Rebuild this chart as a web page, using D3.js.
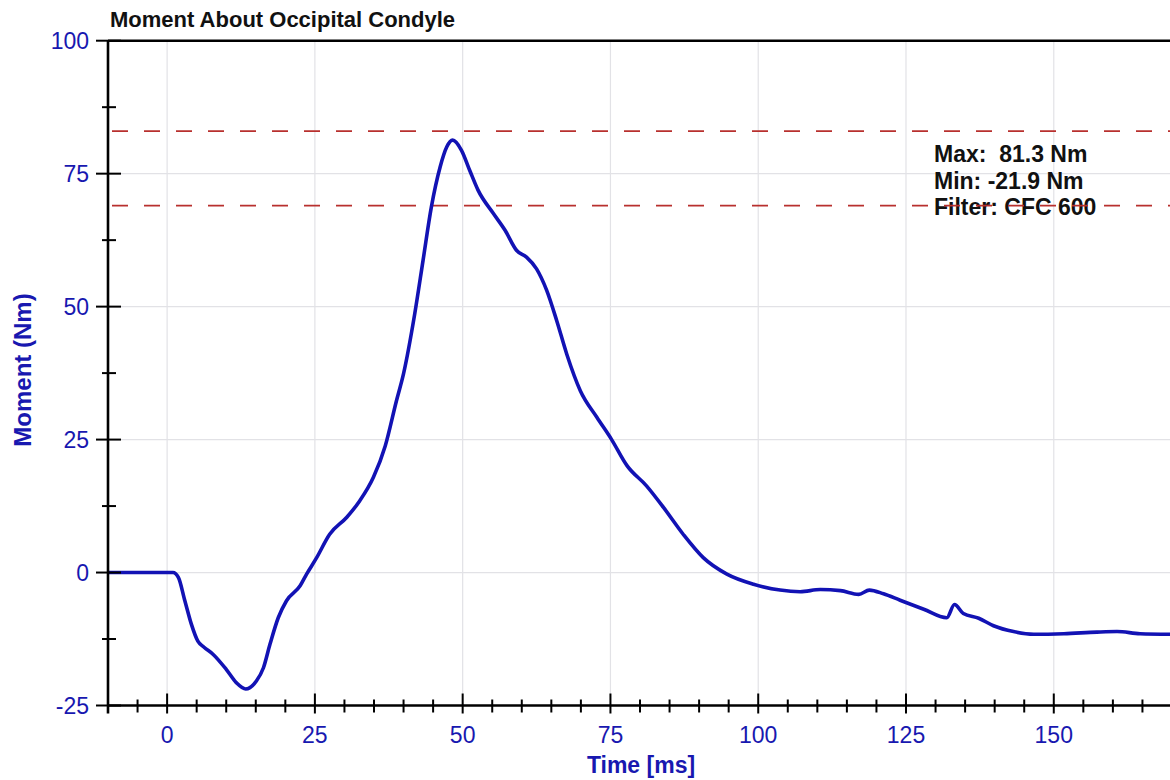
<!DOCTYPE html>
<html>
<head>
<meta charset="utf-8">
<script src="https://cdn.jsdelivr.net/npm/d3@7"></script>
<style>
    body { margin: 0; background: #fff; }
    text { font-family: "Liberation Sans", Arial, sans-serif; }
</style>
</head>
<body>
<svg id="chart" width="1170" height="780"></svg>
<script>
// Sample data
var timeMs = [-10, -5, 0, 1.0, 1.9, 3.0, 4.1, 5.2, 6.2, 7.8, 10.0, 11.7, 13.3, 15.1, 16.3, 17.4, 18.8, 20.2, 22.5, 23.6,
    25.3, 27.5, 30.4, 32.6, 34.9, 36.9, 38.8, 40.0, 41.9, 43.3, 44.7, 46.2, 47.3, 48.3, 49.8, 51.2, 52.6, 55.2, 57.2, 59.1,
    60.8, 62.5, 64.2, 65.9, 67.6, 69.9, 72.7, 75.2, 77.8, 81.1, 84.0, 87.3, 90.7, 94.7, 99.2, 103.7, 107.1, 110.5, 113.9, 117.0,
    118.8, 121.2, 124.0, 128.0, 131.9, 133.2, 134.7, 137.3, 139.8, 143.2, 146.6, 151.7, 157.3, 160.7, 164.6, 170];
var momentNm = [0, 0, 0, 0, -0.9, -5.3, -9.7, -12.9, -14.0, -15.4, -18.2, -20.7, -21.9, -20.4, -17.9, -13.5, -8.5, -5.3, -2.5, -0.3,
    2.8, 7.2, 10.4, 13.5, 17.9, 23.8, 32.3, 37.4, 48.7, 58.7, 68.7, 76.3, 80.0, 81.3, 79.4, 75.6, 71.9, 67.5, 64.3, 60.6,
    59.3, 57.1, 53.1, 47.4, 41.1, 34.2, 29.2, 25.0, 20.1, 16.3, 12.2, 7.2, 2.8, -0.3, -2.2, -3.3, -3.6, -3.2, -3.4, -4.1,
    -3.3, -4.0, -5.2, -6.9, -8.5, -6.0, -7.7, -8.6, -10.0, -11.1, -11.6, -11.5, -11.2, -11.1, -11.5, -11.6];

var xMajorTicks = [0, 25, 50, 75, 100, 125, 150];
var xMinorTicks = [-5, 5, 10, 15, 20, 30, 35, 40, 45, 55, 60, 65, 70, 80, 85, 90, 95, 105, 110, 115, 120, 130, 135, 140, 145, 155, 160, 165];
var yMajorTicks = [-25, 0, 25, 50, 75, 100];
var yMinorTicks = [-12.5, 12.5, 37.5, 62.5, 87.5];
var limitLines = [83, 69];
var statLines = ["Max:  81.3 Nm", "Min: -21.9 Nm", "Filter: CFC 600"];

var svg = d3.select("#chart");

var x = d3.scaleLinear().domain([-10, 170]).range([108, 1172]);
var y = d3.scaleLinear().domain([-25, 100]).range([705.5, 40.7]);

var blue = "#1212b4";
var labelBlue = "#1818b0";

// grid
svg.append("g").selectAll("line")
    .data(xMajorTicks)
    .enter().append("line")
    .attr("x1", d => x(d)).attr("x2", d => x(d))
    .attr("y1", y(100)).attr("y2", y(-25))
    .attr("stroke", "#e2e2e6").attr("stroke-width", 1.2);

svg.append("g").selectAll("line")
    .data(yMajorTicks.filter(d => d > -25 && d < 100))
    .enter().append("line")
    .attr("x1", x(-10)).attr("x2", x(170))
    .attr("y1", d => y(d)).attr("y2", d => y(d))
    .attr("stroke", "#e2e2e6").attr("stroke-width", 1.2);

// stats text (dashed lines go over it)
svg.append("g").selectAll("text")
    .data(statLines)
    .enter().append("text")
    .attr("x", 934)
    .attr("y", (d, i) => 162 + i * 26.5)
    .attr("font-size", "23px")
    .attr("font-weight", "bold")
    .attr("fill", "#111")
    .style("white-space", "pre")
    .text(d => d);

// limit lines
svg.append("g").selectAll("line")
    .data(limitLines)
    .enter().append("line")
    .attr("x1", x(-10)).attr("x2", x(170))
    .attr("y1", d => y(d)).attr("y2", d => y(d))
    .attr("stroke", "#b8302e").attr("stroke-width", 1.8)
    .attr("stroke-dasharray", "16,16")
    .attr("stroke-dashoffset", -4);

// trace
var line = d3.line()
    .x(function (d, i) { return x(timeMs[i]); })
    .y(function (d) { return y(d); })
    .curve(d3.curveMonotoneX);

svg.append("path")
    .datum(momentNm)
    .attr("d", line)
    .attr("fill", "none")
    .attr("stroke", blue)
    .attr("stroke-width", 3.6)
    .attr("stroke-linejoin", "round");

// axes frame
var frame = svg.append("g").attr("stroke", "#000").attr("stroke-width", 2.6);
frame.append("line").attr("x1", x(-10)).attr("x2", 1170).attr("y1", y(100)).attr("y2", y(100));
frame.append("line").attr("x1", x(-10)).attr("x2", 1170).attr("y1", y(-25)).attr("y2", y(-25));
frame.append("line").attr("x1", x(-10)).attr("x2", x(-10)).attr("y1", y(100)).attr("y2", y(-25) + 8);

// ticks
var ticks = svg.append("g").attr("stroke", "#000").attr("stroke-width", 2);
ticks.selectAll(".xmaj").data(xMajorTicks).enter().append("line")
    .attr("x1", d => x(d)).attr("x2", d => x(d))
    .attr("y1", y(-25) - 12).attr("y2", y(-25) + 8);
ticks.selectAll(".xmin").data(xMinorTicks).enter().append("line")
    .attr("x1", d => x(d)).attr("x2", d => x(d))
    .attr("y1", y(-25) - 6).attr("y2", y(-25) + 7);
ticks.selectAll(".ymaj").data(yMajorTicks).enter().append("line")
    .attr("x1", x(-10) - 12).attr("x2", x(-10) + 13)
    .attr("y1", d => y(d)).attr("y2", d => y(d));
ticks.selectAll(".ymin").data(yMinorTicks).enter().append("line")
    .attr("x1", x(-10) - 6).attr("x2", x(-10) + 8)
    .attr("y1", d => y(d)).attr("y2", d => y(d));

// tick labels
svg.append("g").selectAll("text")
    .data(xMajorTicks)
    .enter().append("text")
    .attr("x", d => x(d))
    .attr("y", 743)
    .attr("text-anchor", "middle")
    .attr("font-size", "23px")
    .attr("fill", labelBlue)
    .text(d => d);

svg.append("g").selectAll("text")
    .data(yMajorTicks)
    .enter().append("text")
    .attr("x", 89)
    .attr("y", d => y(d))
    .attr("dy", "0.35em")
    .attr("text-anchor", "end")
    .attr("font-size", "23px")
    .attr("fill", labelBlue)
    .text(d => d);

// titles
svg.append("text")
    .attr("x", 110).attr("y", 27)
    .attr("font-size", "22px").attr("font-weight", "bold")
    .attr("fill", "#111")
    .text("Moment About Occipital Condyle");

svg.append("text")
    .attr("x", 641).attr("y", 773)
    .attr("text-anchor", "middle")
    .attr("font-size", "23px").attr("font-weight", "bold")
    .attr("fill", labelBlue)
    .text("Time [ms]");

svg.append("text")
    .attr("transform", "translate(31,370) rotate(-90)")
    .attr("text-anchor", "middle")
    .attr("font-size", "24px").attr("font-weight", "bold")
    .attr("fill", labelBlue)
    .text("Moment (Nm)");
</script>
</body>
</html>
